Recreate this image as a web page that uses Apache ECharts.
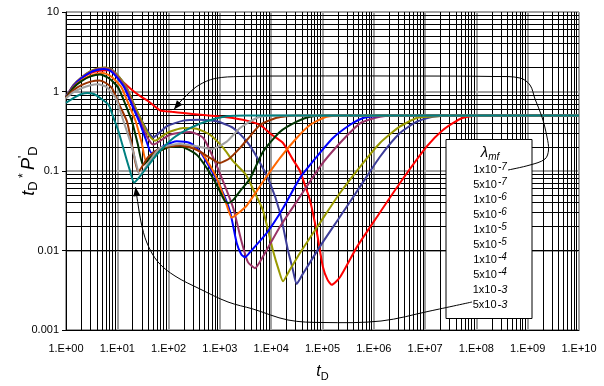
<!DOCTYPE html>
<html><head><meta charset="utf-8">
<script src="https://cdn.jsdelivr.net/npm/echarts@6/dist/echarts.min.js"></script>
<style>html,body{margin:0;padding:0;background:#fff}#c{width:604px;height:386px}</style>
</head><body><div id="c"></div>
<script>
// ---------- data ----------
const xTickLabels = ['1.E+00','1.E+01','1.E+02','1.E+03','1.E+04','1.E+05','1.E+06','1.E+07','1.E+08','1.E+09','1.E+10'];
const yTickLabels = ['0.001','0.01','0.1','1','10'];
const legendBase = ['1x10','5x10','1x10','5x10','1x10','5x10','1x10','5x10','1x10','5x10'];
const legendExp  = ['-7','-7','-6','-6','-5','-5','-4','-4','-3','-3'];
const seriesNames = ['1e-7','5e-7','1e-6','5e-6','1e-5','5e-5','1e-4','5e-4','1e-3','5e-3'];
const seriesColors = ['#FF0000','#3D3D99','#999900','#993366','#0000FF','#FF6600','#003300','#993300','#A0A0A0','#008080'];

const lam1e7 = [[1,0.85],[1.4,1.18],[2,1.46],[3,1.7],[4.5,1.82],[6.5,1.85],[9,1.7],[12.5,1.35],[17.7,1.1],[22,0.98],[30,0.85],[41.5,0.744],[68,0.58],[116,0.555],[194,0.537],[553,0.502],[1360,0.474],[3330,0.43],[6050,0.379],[10000,0.29],[17000,0.225],[26000,0.142],[36400,0.1],[46000,0.065],[57000,0.043],[78000,0.0166],[102000,0.0062],[125000,0.0043],[151000,0.0037],[219000,0.0046],[470000,0.0111],[1150000,0.0264],[3240000,0.0706],[10700000,0.202],[22300000,0.328],[48000000,0.451],[86000000,0.492],[200000000,0.5],[1e10,0.5]];
const lam5e7 = [[1,0.85],[1.4,1.2],[2,1.5],[3,1.79],[4.2,1.94],[6,1.99],[8,1.86],[11,1.5],[15.4,1.1],[21.5,0.667],[30,0.43],[40,0.31],[50,0.265],[92,0.365],[194,0.43],[409,0.442],[866,0.422],[1825,0.347],[3330,0.236],[5210,0.151],[9500,0.0706],[14900,0.0297],[21200,0.0101],[26000,0.006],[31400,0.0038],[40000,0.0049],[89000,0.0112],[219000,0.0266],[540000,0.0635],[1320000,0.151],[3240000,0.30],[6900000,0.417],[14200000,0.482],[40000000,0.5],[1e10,0.5]];
const lam1e6 = [[1,0.85],[1.4,1.2],[2,1.5],[3,1.8],[4.2,1.95],[5.8,2.0],[7.9,1.86],[11,1.5],[15.4,1.1],[21.5,0.667],[30.3,0.417],[40,0.29],[54,0.24],[92,0.30],[194,0.347],[353,0.34],[641,0.286],[1165,0.195],[1825,0.132],[3200,0.09],[4800,0.053],[6920,0.032],[10800,0.0101],[14000,0.0057],[17000,0.0041],[22000,0.0054],[36400,0.0093],[89000,0.0222],[219000,0.0529],[540000,0.113],[1320000,0.225],[3200000,0.361],[6900000,0.464],[12500000,0.482],[30000000,0.5],[1e10,0.5]];
const lam5e6 = [[1,0.85],[1.4,1.19],[2,1.49],[3,1.77],[4.2,1.92],[5.8,1.96],[8,1.82],[10.5,1.5],[14.8,1.1],[20.5,0.667],[28.2,0.417],[38,0.27],[50,0.215],[106,0.286],[261,0.31],[475,0.26],[743,0.146],[1165,0.073],[1825,0.034],[2600,0.0135],[3500,0.0072],[4830,0.006],[6920,0.0084],[14900,0.02],[36400,0.0475],[89000,0.113],[219000,0.225],[540000,0.398],[1320000,0.482],[3000000,0.5],[1e10,0.5]];
const lam1e5 = [[1,0.85],[1.4,1.18],[2,1.47],[3,1.74],[4,1.86],[5.5,1.92],[7.5,1.8],[10,1.48],[13.9,1.1],[19.5,0.667],[26.8,0.417],[36,0.25],[46.8,0.168],[79,0.205],[144,0.236],[261,0.225],[409,0.177],[641,0.109],[1000,0.065],[1575,0.031],[2125,0.0124],[2600,0.009],[3080,0.0082],[4000,0.0098],[8170,0.0166],[17000,0.034],[36400,0.082],[77000,0.151],[160000,0.26],[340000,0.379],[620000,0.464],[1100000,0.49],[3000000,0.5],[1e10,0.5]];
const lam5e5 = [[1,0.84],[1.4,1.14],[2,1.38],[3,1.58],[5.2,1.71],[7.5,1.55],[10,1.3],[12.3,1.1],[17,0.67],[23,0.417],[30,0.223],[37,0.131],[60,0.17],[100,0.2],[200,0.21],[300,0.195],[475,0.16],[866,0.0817],[1360,0.0372],[1700,0.026],[2200,0.029],[3330,0.0368],[6920,0.0733],[14900,0.146],[31400,0.26],[57000,0.379],[120000,0.482],[300000,0.5],[1e10,0.5]];
const lam1e4 = [[1,0.84],[1.4,1.12],[2,1.35],[3,1.55],[4.6,1.64],[6.5,1.5],[8.5,1.3],[10.6,1.1],[14.5,0.68],[19.4,0.417],[25,0.22],[32,0.119],[50,0.16],[106,0.202],[167,0.204],[353,0.16],[553,0.109],[866,0.067],[1257,0.0416],[1460,0.0396],[1800,0.043],[2470,0.056],[3860,0.08],[6920,0.175],[14900,0.312],[31400,0.417],[57000,0.482],[130000,0.5],[1e10,0.5]];
const lam5e4 = [[1,0.83],[1.4,1.04],[2,1.2],[3,1.33],[4.5,1.38],[6,1.28],[7.9,1.1],[10.5,0.72],[15.5,0.417],[20,0.19],[25.7,0.098],[40,0.15],[70,0.195],[167,0.21],[353,0.185],[641,0.146],[1000,0.126],[1575,0.146],[2470,0.195],[3860,0.273],[6050,0.379],[12800,0.468],[30000,0.5],[1e10,0.5]];
const lam1e3 = [[1,0.82],[1.4,0.98],[2,1.1],[3,1.2],[4.2,1.23],[6,1.15],[8,0.95],[9.7,0.78],[13.3,0.417],[17.7,0.24],[22,0.145],[27.7,0.089],[40,0.125],[68,0.195],[167,0.219],[353,0.205],[692,0.189],[1360,0.234],[2470,0.347],[5210,0.464],[9500,0.5],[1e10,0.5]];
const lam5e3 = [[1,0.72],[1.5,0.85],[2,0.93],[2.6,0.96],[3.5,0.93],[5,0.8],[6.8,0.676],[8.5,0.46],[10.6,0.312],[14.3,0.159],[17.9,0.098],[21.2,0.0717],[27.7,0.0858],[58.6,0.16],[124,0.26],[261,0.347],[553,0.422],[1360,0.488],[3330,0.5],[1e10,0.5]];

const dataSets = [lam1e7, lam5e7, lam1e6, lam5e6, lam1e5, lam5e5, lam1e4, lam5e4, lam1e3, lam5e3];

// ---------- chart ----------
const FONT = '"Liberation Sans", Arial, sans-serif';
const chart = echarts.init(document.getElementById('c'), null, {renderer: 'canvas'});

const minorX = [], minorY = [];
for (let k = 0; k < 10; k++) for (let m = 2; m <= 9; m++) minorX.push(m * Math.pow(10, k));
for (let k = -3; k < 1; k++) for (let m = 2; m <= 9; m++) minorY.push(m * Math.pow(10, k));

const series = [{
  type: 'line', data: [[1, 1]], symbol: 'none', lineStyle: {opacity: 0}, silent: true, z: 1,
  markLine: {
    silent: true, symbol: ['none', 'none'], animation: false, z: 1,
    label: {show: false}, emphasis: {disabled: true},
    lineStyle: {color: '#000', width: 1, type: 'solid'},
    data: minorX.map(v => ({xAxis: v})).concat(minorY.map(v => ({yAxis: v})))
  }
}];
dataSets.forEach((d, i) => series.push({
  name: seriesNames[i], type: 'line', data: d, smooth: 0.2,
  symbol: 'none', showSymbol: false, z: 3 + i, animation: false,
  lineStyle: {color: seriesColors[i], width: 2}
}));

const expOf = v => Math.round(Math.log10(v));

chart.setOption({
  animation: false,
  backgroundColor: '#fff',
  grid: {left: 66, right: 25, top: 12, bottom: 56, containLabel: false, outerBoundsMode: 'none'},
  xAxis: {
    type: 'log', logBase: 10, min: 1, max: 1e10, interval: 1,
    name: '{i|t}{s|D}', nameLocation: 'middle', nameGap: 32, nameMoveOverlap: false,
    nameTextStyle: {rich: {
      i: {fontFamily: FONT, fontSize: 16, fontStyle: 'italic', color: '#000', lineHeight: 20},
      s: {fontFamily: FONT, fontSize: 11, color: '#000', lineHeight: 10, verticalAlign: 'bottom'}
    }},
    axisLine: {show: true, lineStyle: {color: '#000', width: 1}},
    axisTick: {show: false},
    axisLabel: {fontFamily: FONT, fontSize: 11, color: '#000', margin: 13,
      formatter: v => xTickLabels[expOf(v)]},
    splitLine: {show: true, lineStyle: {color: '#A0A0A0', width: 2}},
    minorTick: {show: false}, minorSplitLine: {show: false}
  },
  yAxis: {
    type: 'log', logBase: 10, min: 0.001, max: 10, interval: 1,
    name: '{i|t}{s|D}{p| * }{i|P}{p|\'}{s|D}', nameLocation: 'middle', nameGap: 26, nameRotate: 90,
    nameMoveOverlap: false,
    nameTextStyle: {rich: {
      i: {fontFamily: FONT, fontSize: 18, fontStyle: 'italic', color: '#000', lineHeight: 22},
      s: {fontFamily: FONT, fontSize: 13, color: '#000', lineHeight: 11, verticalAlign: 'bottom'},
      p: {fontFamily: FONT, fontSize: 12, color: '#000', lineHeight: 11, verticalAlign: 'top'}
    }},
    axisLine: {show: true, lineStyle: {color: '#000', width: 1}},
    axisTick: {show: true, length: 4, lineStyle: {color: '#000'}},
    axisLabel: {fontFamily: FONT, fontSize: 11, color: '#000', margin: 7,
      formatter: v => yTickLabels[expOf(v) + 3]},
    splitLine: {show: true, lineStyle: {color: '#A0A0A0', width: 2}}
  },
  series: series
});

// ---------- annotations (legend box & arrows) ----------
const g = [];
g.push({type: 'rect', z: 50, shape: {x: 446, y: 139.5, width: 86, height: 179}, style: {fill: '#fff', stroke: '#000', lineWidth: 1}});
g.push({type: 'text', z: 51, x: 490, y: 153, style: {
  text: '{l|λ}{m|mf}', align: 'center', verticalAlign: 'middle',
  rich: {l: {fontFamily: FONT, fontSize: 15, fontStyle: 'italic', fill: '#000', lineHeight: 18},
         m: {fontFamily: FONT, fontSize: 10, fontStyle: 'italic', fill: '#000', lineHeight: 10, verticalAlign: 'bottom'}}
}});
legendBase.forEach((b, i) => {
  const sup = legendExp[i] !== '-3';
  g.push({type: 'text', z: 51, x: 490, y: 169.5 + 15 * i, style: {
    text: '{b|' + b + '}{e|' + legendExp[i] + '}', align: 'center', verticalAlign: 'middle',
    rich: {b: {fontFamily: FONT, fontSize: 11, fill: '#000', lineHeight: 14},
           e: sup ? {fontFamily: FONT, fontSize: 10, fontStyle: 'italic', fill: '#000', lineHeight: 8, verticalAlign: 'top', padding: [0, 0, 0, 1]}
                  : {fontFamily: FONT, fontSize: 11, fontStyle: 'italic', fill: '#000', lineHeight: 14, padding: [0, 0, 0, 1]}}
  }});
});
function arrowPath(pts) {
  g.push({type: 'polyline', z: 52, shape: {points: pts, smooth: 0.35}, style: {stroke: '#000', lineWidth: 1, fill: null}});
  const a = pts[pts.length - 2], b = pts[pts.length - 1];
  const dx = b[0] - a[0], dy = b[1] - a[1], L = Math.hypot(dx, dy);
  const ux = dx / L, uy = dy / L, len = 9, w = 3.5;
  const bx = b[0] - ux * len, by = b[1] - uy * len;
  g.push({type: 'polygon', z: 53, shape: {points: [[b[0], b[1]], [bx - uy * w, by + ux * w], [bx + uy * w, by - ux * w]]}, style: {fill: '#000'}});
}
arrowPath([[508,170],[530,165],[545,159],[548.5,150],[547,137],[542,117],[535,99],[530,85],[520,78],[495,76.5],[400,76],[300,76],[240,76.5],[215,78.5],[199,85],[188,94],[180,102],[174,109.5]]);
arrowPath([[472,302],[430,311],[381,321],[323,322.5],[288,320],[253,309],[228,302],[200,289],[175,276],[158,262],[147,243],[141,222],[138,204],[135.5,187]]);
chart.setOption({graphic: g});
</script>
</body></html>
